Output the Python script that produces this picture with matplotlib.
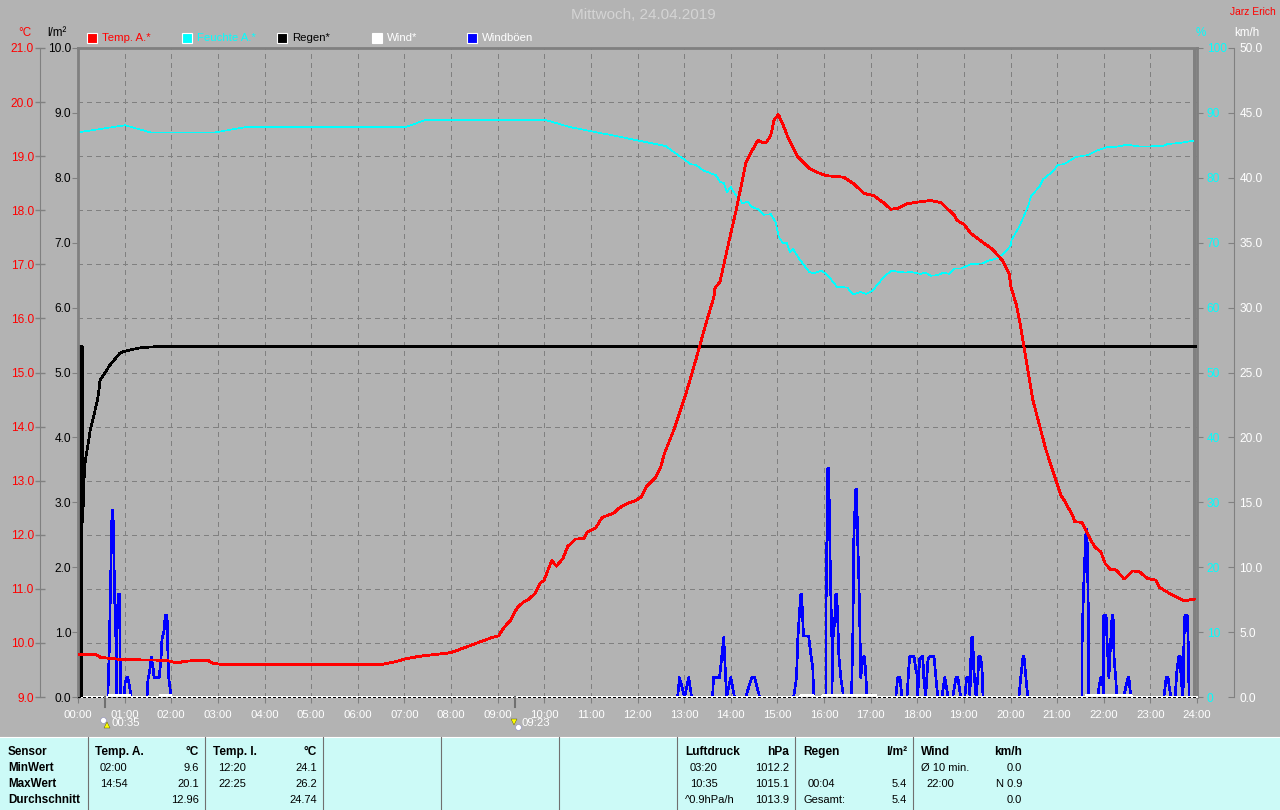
# -*- coding: utf-8 -*-
import matplotlib
matplotlib.use('Agg')
import matplotlib.pyplot as plt
from matplotlib.patches import Rectangle

plt.rcParams['font.family'] = ['Liberation Sans', 'DejaVu Sans']

##########################
# Data
##########################

temp_h = [0.0, 0.4, 0.49, 0.62, 0.97, 1.90, 2.01, 2.19, 2.26, 2.68, 2.79, 2.87, 3.0, 3.2, 6.5,
          6.8, 7.0, 7.3, 8.0, 8.5, 8.88,
          9.02, 9.10, 9.20, 9.27, 9.42, 9.56, 9.67, 9.81, 9.92, 9.99, 10.16, 10.26, 10.40, 10.50,
          10.67, 10.85, 10.92, 11.10, 11.24, 11.49, 11.60, 11.78, 11.96, 12.08, 12.19, 12.39,
          12.49, 12.58, 12.78, 13.03, 13.25, 13.46, 13.64, 13.66, 13.77, 13.85, 14.0, 14.10,
          14.25, 14.32, 14.50, 14.59, 14.66, 14.77, 14.86, 14.93, 15.02, 15.11, 15.22, 15.43,
          15.68, 15.86, 16.04, 16.43, 16.65, 16.86, 17.07, 17.29, 17.43, 17.57, 17.79, 18.0,
          18.29, 18.51, 18.79, 18.86, 19.0, 19.15, 19.40, 19.61, 19.83, 19.97, 20.01, 20.12,
          20.22, 20.48, 20.76, 21.08, 21.15, 21.33, 21.38, 21.53, 21.69, 21.80, 21.94, 22.03,
          22.14, 22.26, 22.44, 22.62, 22.76, 22.94, 23.12, 23.19, 23.44, 23.73, 23.94]
temp_c = [9.78, 9.78, 9.73, 9.72, 9.69, 9.68, 9.65, 9.63, 9.66, 9.68, 9.68, 9.63, 9.61, 9.6, 9.6,
          9.65, 9.7, 9.75, 9.82, 9.98, 10.10,
          10.13, 10.24, 10.35, 10.41, 10.65, 10.76, 10.81, 10.92, 11.11, 11.15, 11.52, 11.42,
          11.56, 11.78, 11.92, 11.93, 12.05, 12.12, 12.32, 12.40, 12.49, 12.58, 12.63, 12.70,
          12.89, 13.06, 13.23, 13.51, 13.94, 14.58, 15.23, 15.88, 16.40, 16.56, 16.68, 16.99,
          17.57, 17.94, 18.56, 18.87, 19.17, 19.30, 19.26, 19.26, 19.39, 19.67, 19.77, 19.61,
          19.36, 18.99, 18.78, 18.70, 18.64, 18.61, 18.48, 18.31, 18.27, 18.13, 18.02, 18.03,
          18.12, 18.15, 18.18, 18.14, 17.91, 17.81, 17.74, 17.57, 17.41, 17.28, 17.07, 16.83,
          16.58, 16.27, 15.84, 14.49, 13.57, 12.73, 12.64, 12.36, 12.24, 12.23, 11.96, 11.78,
          11.68, 11.47, 11.36, 11.35, 11.18, 11.33, 11.32, 11.19, 11.16, 11.03, 10.90, 10.78,
          10.81]

hum_h = [0.0, 1.01, 1.55, 2.94, 3.59, 7.02, 7.45, 10.03, 10.56, 11.42, 12.60, 12.92, 13.14, 13.25,
         13.42, 13.68, 13.77, 13.85, 13.92, 14.0, 14.10, 14.25, 14.36, 14.46, 14.60, 14.71, 14.86,
         14.96, 15.03, 15.11, 15.20, 15.27, 15.33, 15.46, 15.68, 15.78, 15.95, 16.10, 16.28, 16.50,
         16.62, 16.79, 16.90, 17.04, 17.29, 17.45, 17.61, 17.75, 17.86, 18.07, 18.18, 18.29, 18.43,
         18.57, 18.68, 18.79, 18.93, 19.15, 19.40, 19.51, 19.72, 19.86, 20.01, 20.02, 20.19, 20.37,
         20.45, 20.62, 20.70, 20.90, 21.02, 21.15, 21.40, 21.65, 21.86, 22.06, 22.29, 22.50, 22.79,
         23.26, 23.37, 23.66, 23.91]
hum_pct = [87, 88.1, 87, 87, 87.8, 87.8, 88.9, 88.9, 87.8, 86.6, 84.9, 83.25, 82.1, 82.0,
           81.1, 80.4, 79.4, 79.2, 77.8, 78.6, 77.4, 76.1, 76.3, 75.5, 75.1, 74.3, 74.4,
           73.2, 70.9, 70.0, 70.0, 68.5, 69.1, 67.6, 65.5, 65.3, 65.7, 64.8, 63.2, 63.1,
           62.0, 62.4, 62.1, 62.6, 64.8, 65.7, 65.5, 65.4, 65.5, 65.2, 65.4, 64.9, 65.0,
           65.4, 65.2, 66.0, 66.0, 66.7, 66.8, 67.2, 67.6, 68.4, 69.6, 70.4, 72.5, 75.5,
           77.3, 78.6, 79.8, 80.9, 82.0, 82.1, 83.2, 83.5, 84.2, 84.7, 84.8, 85.1, 84.8,
           84.9, 85.2, 85.4, 85.7]

rain_h = [0.0, 0.0, 0.01, 0.01, 0.02, 0.03, 0.04, 0.05, 0.06, 0.07, 0.08, 0.09, 0.10, 0.13, 0.15,
          0.26, 0.41, 0.45, 0.47, 0.58, 0.69, 0.90, 1.01, 1.33, 1.70, 23.98]
rain_mm = [0.0, 0.9, 0.0, 1.8, 0.0, 5.4, 0.0, 5.4, 0.0, 5.4, 0.0, 5.4, 2.7, 3.35, 3.6,
           4.1, 4.55, 4.73, 4.88, 5.0, 5.12, 5.3, 5.33, 5.38, 5.4, 5.4]

gust_h = [0.64, 0.67, 0.69, 0.71, 0.73, 0.75, 0.77, 0.79, 0.82, 0.82, 0.84, 0.86, 0.90, 0.90, 0.92,
          0.99, 1.01, 1.05, 1.07, 1.09, 1.14,
          1.48, 1.50, 1.55, 1.57, 1.61, 1.63, 1.67, 1.74, 1.78, 1.80, 1.85, 1.87, 1.91, 1.93, 1.95, 2.0,
          12.86, 12.90, 13.01, 13.10, 13.16,
          13.61, 13.63, 13.76, 13.85, 13.91, 14.0, 14.08,
          14.32, 14.45, 14.51, 14.62,
          15.35, 15.41, 15.44, 15.50, 15.52, 15.56, 15.67, 15.71, 15.76, 15.78,
          16.04, 16.04, 16.06, 16.08, 16.10, 16.12, 16.14, 16.17, 16.17, 16.19, 16.23, 16.25, 16.27,
          16.29, 16.32, 16.36, 16.42,
          16.59, 16.62, 16.64, 16.68, 16.70, 16.72, 16.75, 16.77, 16.79, 16.81, 16.85, 16.87, 16.90, 16.92,
          17.54, 17.58, 17.63, 17.67,
          17.78, 17.82, 17.84, 17.93, 17.97, 18.01, 18.01, 18.03, 18.05, 18.10, 18.12, 18.14, 18.18,
          18.23, 18.27, 18.36, 18.40, 18.44,
          18.53, 18.59, 18.66,
          18.76, 18.83, 18.87, 18.93,
          19.02, 19.06, 19.11, 19.13, 19.15, 19.17, 19.19, 19.21, 19.26, 19.30, 19.32, 19.36, 19.39, 19.41,
          20.18, 20.22, 20.27, 20.29, 20.33, 20.37,
          21.53, 21.53, 21.55, 21.58, 21.62, 21.64, 21.66, 21.68, 21.68,
          21.88, 21.90, 21.94, 21.98, 22.0, 22.0, 22.05, 22.07, 22.09, 22.11, 22.15, 22.18, 22.20,
          22.22, 22.26, 22.28,
          22.43, 22.48, 22.52, 22.54, 22.58,
          23.29, 23.34, 23.38, 23.40, 23.44,
          23.53, 23.57, 23.61, 23.64, 23.66, 23.70, 23.72, 23.74, 23.79, 23.81, 23.83]
gust_kmh = [0, 3.6, 7.2, 10.8, 14.4, 14.4, 10.8, 7.2, 3.6, 0, 5.3, 7.9, 7.9, 3.6, 0,
            0, 1.1, 1.5, 1.5, 1.1, 0,
            0, 1.3, 2.3, 3.1, 2.3, 1.5, 1.5, 1.5, 2.9, 4.4, 5.2, 6.3, 6.3, 3.1, 1.3, 0,
            0, 1.5, 0, 1.5, 0,
            0, 1.5, 1.5, 4.6, 0, 1.5, 0,
            0, 1.5, 1.5, 0,
            0, 1.5, 4.6, 7.9, 7.9, 4.7, 4.7, 3.5, 2.2, 0,
            0, 5.8, 11.7, 17.6, 17.6, 13.1, 8.8, 4.4, 0, 4.4, 5.9, 7.9, 7.9,
            6.5, 3.1, 1.5, 0,
            0, 5.2, 12.3, 16, 16, 12.3, 8.8, 5.2, 1.5, 2.3, 3.1, 3.1, 1.5, 0,
            0, 1.5, 1.5, 0,
            0, 2.3, 3.1, 3.1, 2.1, 1.5, 0, 1.5, 2.9, 3.1, 3.1, 1.5, 0,
            2.9, 3.1, 3.1, 1.5, 0,
            0, 1.5, 0,
            0, 1.5, 1.5, 0,
            0, 1.5, 1.5, 0, 3.1, 4.6, 4.6, 2.3, 0, 1.5, 3.1, 3.1, 2.1, 0,
            0, 1.5, 3.1, 3.1, 1.5, 0,
            0, 3.1, 6.3, 9.6, 12.9, 12.9, 8.5, 4.2, 0,
            0, 0.9, 1.5, 0.9, 0, 6.3, 6.3, 4.4, 2.9, 1.5, 4.4, 6.3, 6.3,
            3.1, 1.3, 0,
            0, 0.9, 1.5, 1.5, 0,
            0, 1.5, 1.5, 0.9, 0,
            0, 2.1, 3.1, 3.1, 1.3, 0, 4.4, 6.3, 6.3, 4.4, 0]

wind_h = [0.0, 0.67, 0.68, 1.10, 1.11, 1.76, 1.77, 1.98, 1.99, 15.5, 15.51, 15.76, 15.77, 15.97,
          15.98, 17.11, 17.12, 21.62, 21.63, 22.58, 22.59, 24.0]
wind_kmh = [0, 0, 0.15, 0.15, 0, 0, 0.15, 0.15, 0, 0, 0.15, 0.15, 0, 0,
            0.15, 0.15, 0, 0, 0.15, 0.15, 0, 0]

temp_ticks = list(range(9, 22))
rain_ticks = list(range(0, 11))
hum_ticks = list(range(0, 101, 10))
wind_ticks = list(range(0, 51, 5))
hour_ticks = list(range(0, 25))
hour_labels = ['%02d:00' % h for h in hour_ticks]

event_h = [0.58, 9.38]
event_labels = ['00:35', '09:23']
event_arrow = ['^', 'v']
event_arrow_h = [0.62, 9.35]
event_arrow_c = [8.48, 8.54]
event_moon_h = [0.537, 9.44]
event_moon_c = [8.57, 8.44]

legend_names = ['Temp. A.*', 'Feuchte A.*', 'Regen*', 'Wind*', 'Windböen']
legend_boxes = ['#ff0000', '#00ffff', '#000000', '#ffffff', '#0000ff']
legend_text = ['#ff0000', '#00ffff', '#000000', '#ffffff', '#ffffff']

table_rows = ['Sensor', 'MinWert', 'MaxWert', 'Durchschnitt']
table_cols = [
    (['Temp. A.', '02:00', '14:54', ''], ['°C', '9.6', '20.1', '12.96']),
    (['Temp. I.', '12:20', '22:25', ''], ['°C', '24.1', '26.2', '24.74']),
    (['Luftdruck', '03:20', '10:35', '^0.9hPa/h'], ['hPa', '1012.2', '1015.1', '1013.9']),
    (['Regen', '', '00:04', 'Gesamt:'], ['l/m²', '', '5.4', '5.4']),
    (['Wind', 'Ø 10 min.', '22:00', ''], ['km/h', '0.0', 'N 0.9', '0.0']),
]

##########################
# Figure
##########################

W, H = 1280, 810
BG = '#b3b3b3'
AXC = '#808080'
PANEL = '#ccfaf7'

fig = plt.figure(figsize=(W / 100, H / 100), dpi=100, facecolor=BG)
rect = [78 / W, (H - 697) / H, (1197 - 78) / W, (697 - 48) / H]

ax = fig.add_axes(rect, facecolor=BG)
ax_hum = ax.twinx()
ax_wind = ax.twinx()
ax_rain = ax.twinx()
ax_top = ax.twinx()
ax_top.set_yticks([])

for a in (ax_hum, ax_wind, ax_rain, ax_top):
    a.patch.set_visible(False)
    for s in a.spines.values():
        s.set_visible(False)

# set_position resets the ticks, so the spines have to be placed first
# (outward offsets are in points: 38 px and 37 px at dpi 100)
ax.spines['left'].set_position(('outward', 27.4))
ax.spines['left'].set_color(AXC)
ax.spines['right'].set_visible(False)
ax.spines['bottom'].set_visible(False)
ax.spines['top'].set_color(AXC)
ax.spines['top'].set_linewidth(2)
ax_wind.spines['right'].set_visible(True)
ax_wind.spines['right'].set_color(AXC)
ax_wind.spines['right'].set_position(('outward', 26.6))

ax.set_xlim(0, 24)
ax.set_ylim(9, 21)
ax_rain.set_ylim(0, 10)
ax_hum.set_ylim(0, 100)
ax_wind.set_ylim(0, 50)
ax_top.set_ylim(9, 21)

ax.tick_params(axis='x', length=4, color=AXC, pad=5)
ax.set_xticks(hour_ticks)
ax.set_xticklabels(hour_labels, color='white', fontsize=8.2)
ax.tick_params(axis='y', direction='inout', length=7, color=AXC, width=1, pad=1)
ax.set_yticks(temp_ticks)
ax.set_yticklabels(['%.1f' % t for t in temp_ticks], color='#ff0000', fontsize=8.6)
ax.grid(True, color=AXC, linewidth=0.8, linestyle=(0, (3.6, 3.6)), antialiased=False)
ax.set_axisbelow(True)

ax_rain.yaxis.tick_left()
ax_rain.tick_params(axis='y', length=4, color=AXC, pad=1)
ax_rain.set_yticks(rain_ticks)
ax_rain.set_yticklabels(['%.1f' % t for t in rain_ticks], color='black', fontsize=8.6)
ax_rain.spines['left'].set_visible(True)
ax_rain.spines['left'].set_color(AXC)
ax_rain.spines['left'].set_linewidth(2)

ax_hum.tick_params(axis='y', length=4, color=AXC, pad=3)
ax_hum.set_yticks(hum_ticks)
ax_hum.set_yticklabels(['%d' % t for t in hum_ticks], color='#00ffff', fontsize=8.6)
ax_hum.spines['right'].set_visible(True)
ax_hum.spines['right'].set_color(AXC)
ax_hum.spines['right'].set_linewidth(2)

ax_wind.tick_params(axis='y', direction='in', length=4, color=AXC, pad=4)
ax_wind.set_yticks(wind_ticks)
ax_wind.set_yticklabels(['%.1f' % t for t in wind_ticks], color='white', fontsize=8.6)

# thin inner line just left of the right border
ax.axvline(23.93, color=AXC, linewidth=0.8, antialiased=False)

ax_hum.plot(hum_h, hum_pct, color='#00ffff', linewidth=0.45, antialiased=False)
ax_wind.plot(gust_h, gust_kmh, color='#0000ff', linewidth=1.2, antialiased=False)
ax_wind.plot(wind_h, wind_kmh, color='white', linewidth=1.4, antialiased=False, clip_on=False)
ax_rain.plot(rain_h, rain_mm, color='black', linewidth=1.2, antialiased=False)
ax_top.plot(temp_h, temp_c, color='#ff0000', linewidth=1.3, antialiased=False)
ax_top.axhline(9, color='black', linewidth=1, linestyle=(0, (1.5, 1.5)), clip_on=False,
               antialiased=False)

# sun rise / set marks below the axis
for i in range(len(event_h)):
    h = event_h[i]
    ax_top.plot([h, h], [9, 8.82], color='#707070', linewidth=1.5, clip_on=False)
    ax_top.plot([event_moon_h[i]], [event_moon_c[i]], marker='o', markersize=4.2, color='white',
                markeredgecolor='#9090c0', markeredgewidth=0.4, clip_on=False)
    ax_top.plot([event_arrow_h[i]], [event_arrow_c[i]], marker=event_arrow[i], markersize=4.5,
                color='#ffff00', markeredgecolor='#505000', markeredgewidth=0.3, clip_on=False)
    ax_top.annotate(event_labels[i], (h, 8.52), xytext=(4.5, 0), textcoords='offset points',
                    color='white', fontsize=8.2, va='center', annotation_clip=False)

# overlay in pixel coordinates for header and the sensor panel
ov = fig.add_axes([0, 0, 1, 1], facecolor='none', zorder=10)
ov.set_xlim(0, W)
ov.set_ylim(H, 0)
ov.axis('off')

ov.text(643, 15, 'Mittwoch, 24.04.2019', color='#d4d4d4', fontsize=11, ha='center', va='center')
ov.text(1276, 12, 'Jarz Erich', color='#ff0000', fontsize=7.4, ha='right', va='center')
ov.text(25, 33, '°C', color='#ff0000', fontsize=8.4, ha='center', va='center')
ov.text(57, 33, 'l/m²', color='black', fontsize=8.4, ha='center', va='center')
ov.text(1201, 33, '%', color='#00ffff', fontsize=8.4, ha='center', va='center')
ov.text(1247, 33, 'km/h', color='white', fontsize=8.4, ha='center', va='center')

for i in range(len(legend_names)):
    x0 = 87 + i * 95
    ov.add_patch(Rectangle((x0, 33), 10, 10, facecolor=legend_boxes[i], edgecolor='white',
                           linewidth=0.8))
    ov.text(x0 + 15, 38, legend_names[i], color=legend_text[i], fontsize=8.2, va='center')

ov.add_patch(Rectangle((0, 737), W, 73, facecolor=PANEL, edgecolor='none'))
ov.plot([0, W], [736.5, 736.5], color='white', linewidth=0.8)
for x in [88, 205, 323, 441, 559, 677, 795, 913]:
    ov.plot([x, x], [737, 810], color='#707070', linewidth=0.8)

row_y = [752, 768, 784, 800]
for y, name in zip(row_y, table_rows):
    ov.text(8, y, name, fontsize=8.4, fontweight='bold', color='black', va='center')

col_left = [95, 213, 685, 803, 921]
col_right = [199, 317, 789, 907, 1022]
for (left, right), xl, xr in zip(table_cols, col_left, col_right):
    for j, y in enumerate(row_y):
        head = j == 0
        wt = 'bold' if head else 'normal'
        fs = 8.6 if head else 8.0
        indent = 0
        if not head and ':' in left[j] and left[j][0].isdigit():
            indent = 5
        ov.text(xl + indent, y, left[j], fontsize=fs, fontweight=wt, color='black', va='center')
        ov.text(xr, y, right[j], fontsize=fs, fontweight=wt, color='black', va='center',
                ha='right')

plt.savefig('out.png', dpi=100, facecolor=BG)
plt.close()
